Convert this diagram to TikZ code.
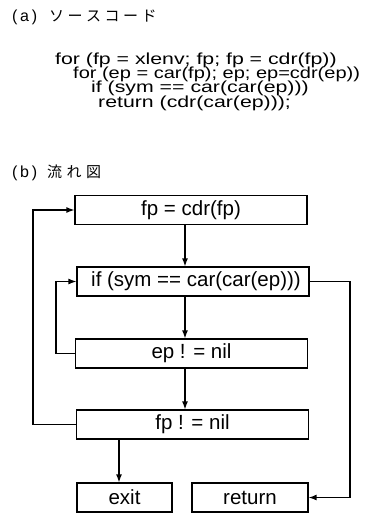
\documentclass[tikz,border=0pt]{standalone}
\usepackage{fontspec}
\setmainfont{Liberation Sans}
\newfontfamily\jpfont{Noto Sans CJK JP}
\usetikzlibrary{arrows.meta}
\newcommand\codeline[2]{\scalebox{#1}[1]{#2}}
\begin{document}
\begin{tikzpicture}[x=1pt,y=-1pt,
  box/.style={draw,line width=1.2pt,minimum width=232pt,minimum height=29pt,inner sep=0pt,
    font=\fontsize{20.5}{24}\selectfont},
  conn/.style={line width=1.3pt},
  arr/.style={conn,-{Latex[length=8pt,width=6pt]}},
  code/.style={anchor=base west,inner sep=0pt,font=\fontsize{16}{19}\selectfont},
  head/.style={anchor=base west,inner sep=0pt,font=\fontsize{16}{19}\selectfont},
  jphead/.style={anchor=base west,inner sep=0pt,font=\jpfont\fontsize{15}{18}\selectfont},
]
\useasboundingbox (0,0) rectangle (365,513);

% headings
\node[head] (ha) at (12,21.5) {(\,a\,)};
\node[jphead] (hat) at (49,21.5) {ソ\hspace{3.5pt}ー\hspace{3.5pt}ス\hspace{3.5pt}コ\hspace{3.5pt}ー\hspace{3.5pt}ド};
\node[head] (hb) at (12,177.5) {(\,b\,)};
\node[jphead] (hbt) at (47,177.5) {流\hspace{4.5pt}れ\hspace{4.5pt}図};

% source code
\node[code] (c1) at (55,64.5) {\codeline{1.33}{for (fp = xlenv; fp; fp = cdr(fp))}};
\node[code] (c2) at (73,78.7) {\codeline{1.25}{for (ep = car(fp); ep; ep=cdr(ep))}};
\node[code] (c3) at (91,92.9) {\codeline{1.33}{if (sym == car(car(ep)))}};
\node[code] (c4) at (98,107.1) {\codeline{1.33}{return (cdr(car(ep)));}};

% flowchart boxes
\node[box] (b1) at (191,210) {fp = cdr(fp)};
\node[box] (b2) at (193,281.5) {\hspace*{6pt}if (sym == car(car(ep)))};
\node[box] (b3) at (191.5,353.5) {ep ! = nil};
\node[box] (b4) at (192.5,424.5) {fp ! = nil};
\node[box,minimum width=95pt] (ex) at (124.5,497.5) {exit};
\node[box,minimum width=116pt] (ret) at (250,497.5) {return};

% helper coordinates
\coordinate (V) at (185,0);
\coordinate (L1) at (33,0);
\coordinate (L2) at (56,0);
\coordinate (R) at (350,0);
\coordinate (E) at (119,0);

% connectors
\draw[arr] (b1.south -| V) -- (b2.north -| V);
\draw[arr] (b2.south -| V) -- (b3.north -| V);
\draw[arr] (b3.south -| V) -- (b4.north -| V);
\draw[arr] (b4.south -| E) -- (ex.north -| E);
\draw[arr] (b4.west) -- (b4.west -| L1) -- (b1.west -| L1) -- (b1.west);
\draw[arr] (b3.west) -- (b3.west -| L2) -- (b2.west -| L2) -- (b2.west);
\draw[arr] (b2.east) -- (b2.east -| R) -- (ret.east -| R) -- (ret.east);
\end{tikzpicture}
\end{document}
